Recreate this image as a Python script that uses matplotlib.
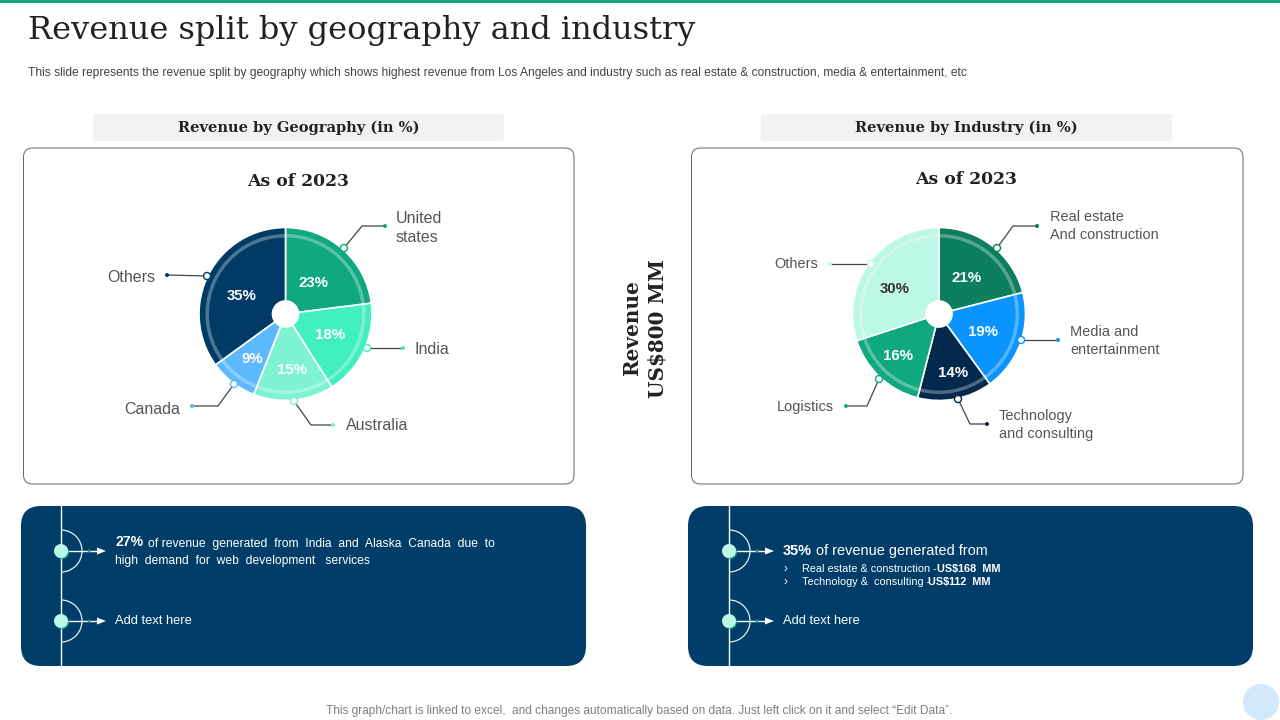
import matplotlib
matplotlib.use("Agg")
import matplotlib.pyplot as plt
from matplotlib.patches import FancyBboxPatch, Circle, Arc, Rectangle

plt.rcParams['font.family'] = ['Liberation Sans', 'DejaVu Sans']

geo_names = ["United\nstates", "India", "Australia", "Canada", "Others"]
geo_values = [23, 18, 15, 9, 35]
geo_colors = ["#10a880", "#42efc0", "#7df3d2", "#5cb8ff", "#003b66"]

ind_names = ["Real estate\nAnd construction", "Media and\nentertainment", "Technology\nand consulting", "Logistics", "Others"]
ind_values = [21, 19, 14, 16, 30]
ind_colors = ["#0d7f5f", "#0a94ff", "#03294d", "#10a880", "#bdf7e6"]

NAVY = "#003d68"
GREY = "#555555"


def px(p):
    return p * 0.72


fig = plt.figure(figsize=(12.8, 7.2), dpi=100, facecolor="white")
bg = fig.add_axes([0, 0, 1, 1], zorder=1)
bg.set_xlim(0, 1280)
bg.set_ylim(720, 0)
bg.axis("off")
top = fig.add_axes([0, 0, 1, 1], zorder=3)
top.set_xlim(0, 1280)
top.set_ylim(720, 0)
top.axis("off")


def box(x0, y0, x1, y1, r, fc, ec="none", lw=0):
    bg.add_patch(FancyBboxPatch((x0 + r, y0 + r), x1 - x0 - 2 * r, y1 - y0 - 2 * r,
                                boxstyle=f"round,pad={r},rounding_size={r}", fc=fc, ec=ec, lw=lw))


def draw_pie(cx, cy, r, values, colors, nudges, dark_last=False):
    ax = fig.add_axes([(cx - r * 1.1) / 1280, 1 - (cy + r * 1.1) / 720, r * 2.2 / 1280, r * 2.2 / 720], zorder=2)
    wedges, _, autos = ax.pie(values, colors=colors, startangle=90, counterclock=False, radius=1,
                              autopct="%d%%", pctdistance=0.57,
                              wedgeprops={"edgecolor": "white", "linewidth": 1.2},
                              textprops={"color": "white", "fontsize": px(15), "fontweight": "bold"})
    ax.pie(values, colors=["#ffffff"] * len(values), startangle=90, counterclock=False, radius=0.925,
           wedgeprops={"width": 0.04, "alpha": 0.3, "linewidth": 0})
    ax.add_patch(Circle((0, 0), 0.16, fc="white", ec="none", zorder=5))
    ax.set_xlim(-1.1, 1.1)
    ax.set_ylim(-1.1, 1.1)
    # percent labels do not sit on one radius in the slide, shift them a bit
    for t, (dx, dy) in zip(autos, nudges):
        x, y = t.get_position()
        t.set_position((x + dx / r, y - dy / r))
    if dark_last:
        autos[-1].set_color("#333333")


def leader(path, color):
    xs = [p[0] for p in path]
    ys = [p[1] for p in path]
    top.plot(xs, ys, color="#444444", lw=0.9, zorder=5)
    top.add_patch(Circle(path[0], 3.5, fc="white", ec=color, lw=1, zorder=6))
    top.add_patch(Circle(path[-1], 2, fc=color, ec="none", zorder=6))


def node(x, y, end):
    top.add_patch(Arc((x, y), 42, 42, theta1=-90, theta2=90, ec="#dff3f5", lw=0.9))
    top.plot([x, end - 6], [y, y], color="white", lw=1)
    top.fill([end - 9, end, end - 9], [y - 3.5, y, y + 3.5], color="white", lw=0)
    top.add_patch(Circle((x + 28, y), 1.5, fc="#10a880", ec="none", zorder=4))
    top.add_patch(Circle((x + 1, y + 1), 7, fc="#10a880", ec="none", zorder=4))
    top.add_patch(Circle((x, y), 7, fc="#bdf7e6", ec="none", zorder=5))


# frame
bg.add_patch(Rectangle((0, 0), 1280, 3, fc="#12a583", ec="none"))
bg.add_patch(Circle((1261, 702), 18, fc="#d3e9fb", ec="none"))
bg.text(28, 31, "Revenue split by geography and industry", family="DejaVu Serif", fontsize=px(32),
        color="#222222", va="center", ha="left")
bg.text(28, 73, "This slide represents the revenue split by geography which shows highest revenue from Los Angeles and industry such as real estate & construction, media & entertainment, etc",
        fontsize=px(12), color="#444444", va="center", ha="left")
bg.text(639, 711, "This graph/chart is linked to excel,  and changes automatically based on data. Just left click on it and select “Edit Data”.",
        fontsize=px(11.9), color="#7f7f7f", va="center", ha="center")

# headers and white panels
for x0, x1, label in [(93, 504, "Revenue by Geography (in %)"), (761, 1172, "Revenue by Industry (in %)")]:
    box(x0, 114, x1, 141, 3, "#f2f2f2")
    bg.text((x0 + x1) / 2, 128, label, family="DejaVu Serif", fontweight="bold", fontsize=px(14.6),
            color="#222222", va="center", ha="center")
box(23.5, 148, 574, 484, 9, "white", "#666666", 0.7)
box(691.5, 148, 1243, 484, 9, "white", "#666666", 0.7)
bg.text(298, 181, "As of 2023", family="DejaVu Serif", fontweight="bold", fontsize=px(17.2), color="#222222", va="center", ha="center")
bg.text(966, 180, "As of 2023", family="DejaVu Serif", fontweight="bold", fontsize=px(17.2), color="#222222", va="center", ha="center")

# pies
draw_pie(285.5, 314, 86.5, geo_values, geo_colors, [(-5, 6), (0, 0), (2, 7), (-3, 6), (0, 4)])
draw_pie(939, 314, 86.5, ind_values, ind_colors, [(-3, 3), (-2, 1), (5, 11), (-7, 6), (-4, 4)], dark_last=True)

geo_paths = [[(344, 248), (362, 226), (385, 226)], [(367, 348), (403, 348)], [(294, 401), (311, 425), (333, 425)],
             [(234, 384), (218, 406), (192, 406)], [(207, 276), (167, 275)]]
ind_paths = [[(997, 248), (1013, 226), (1037, 226)], [(1021, 340), (1058, 340)], [(958, 399), (970, 424), (987, 424)],
             [(879, 379), (867, 406), (846, 406)], [(871, 264), (830, 264)]]
for i in range(5):
    leader(geo_paths[i], geo_colors[i])
    leader(ind_paths[i], ind_colors[i])

geo_label_pos = [(396, 228, "left"), (415, 350, "left"), (346, 426, "left"), (180, 409, "right"), (155, 278, "right")]
ind_label_pos = [(1050, 226, "left"), (1070, 341, "left"), (999, 425, "left"), (834, 407, "right"), (818, 264, "right")]
for name, (x, y, ha) in zip(geo_names, geo_label_pos):
    top.text(x, y, name, fontsize=px(16), color=GREY, va="center", ha=ha, linespacing=1.3)
for name, (x, y, ha) in zip(ind_names, ind_label_pos):
    top.text(x, y, name, fontsize=px(14.5), color=GREY, va="center", ha=ha, linespacing=1.28)

# revenue side label
top.text(632, 328, "Revenue", family="DejaVu Serif", fontweight="bold", fontsize=px(20), rotation=90,
         color="#222222", va="center", ha="center")
top.text(657, 328, "US$800 MM", family="DejaVu Serif", fontweight="bold", fontsize=px(20), rotation=90,
         color="#222222", va="center", ha="center")

# navy panels
box(21, 506, 586, 666, 20, NAVY)
box(688, 506, 1253, 666, 20, NAVY)
for x in (61, 729):
    top.plot([x, x], [506, 666], color="white", lw=1)
node(61, 551, 106)
node(61, 621, 106)
node(729, 551, 774)
node(729, 621, 774)

top.text(115, 542.5, "27%", fontsize=px(14), fontweight="bold", color="white", va="center")
top.text(148, 544, "of revenue  generated  from  India  and  Alaska  Canada  due  to", fontsize=px(12.1), color="white", va="center")
top.text(115, 561, "high  demand  for  web  development   services", fontsize=px(12.1), color="white", va="center")
top.text(115, 621, "Add text here", fontsize=px(12.9), color="white", va="center")

top.text(783, 551, "35%", fontsize=px(14.5), fontweight="bold", color="white", va="center")
top.text(816, 551, "of revenue generated from", fontsize=px(14.5), color="white", va="center")
top.text(783, 569, "›", fontsize=px(12), color="white", va="center")
top.text(783, 582, "›", fontsize=px(12), color="white", va="center")
top.text(802, 569, "Real estate & construction -", fontsize=px(10.9), color="white", va="center")
top.text(937, 569, "US$168  MM", fontsize=px(10.9), fontweight="bold", color="white", va="center")
top.text(802, 582, "Technology &  consulting -", fontsize=px(10.9), color="white", va="center")
top.text(928, 582, "US$112  MM", fontsize=px(10.9), fontweight="bold", color="white", va="center")
top.text(783, 621, "Add text here", fontsize=px(12.9), color="white", va="center")

fig.savefig("out.png", dpi=100)
